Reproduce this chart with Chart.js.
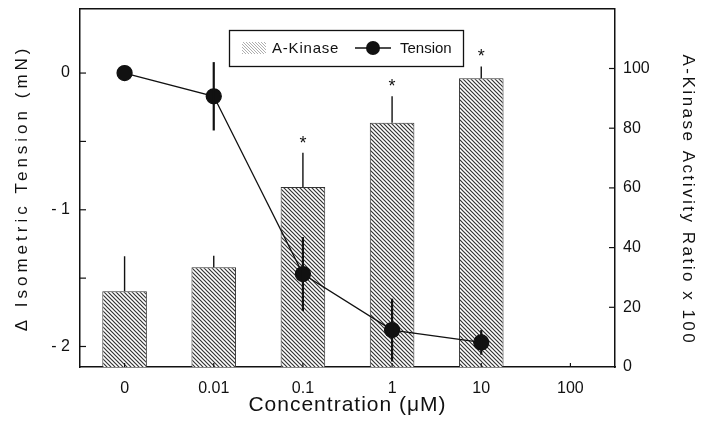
<!DOCTYPE html>
<html>
<head>
<meta charset="utf-8">
<script src="https://cdn.jsdelivr.net/npm/chart.js@4/dist/chart.umd.min.js"></script>
<style>
  html, body { margin: 0; padding: 0; background: #fff; }
  #wrap { width: 702px; height: 425px; }
</style>
</head>
<body>
<div id="wrap"><canvas id="chart" width="702" height="425"></canvas></div>
<script>
// data
const concentrations = ["0", "0.01", "0.1", "1", "10", "100"];
const kinaseActivity = [25.4, 33.4, 60.3, 81.8, 96.7, null];
const kinaseErr = [11.7, 3.9, 11.5, 8.9, 4.0, null];
const kinaseSignificant = [false, false, true, true, true, false];
const tension = [0, -0.17, -1.47, -1.88, -1.97, null];
const tensionErr = [0, 0.25, 0.27, 0.23, 0.09, null];
const tensionTicks = [0, -0.5, -1, -1.5, -2];
const kinaseTicks = [0, 20, 40, 60, 80, 100];

const FONT = "'Liberation Sans', Arial, Helvetica, sans-serif";
const INK = "#111";

Chart.defaults.font.family = FONT;
Chart.defaults.color = INK;

function makeHatch(lineColor, size, width) {
  const p = document.createElement("canvas");
  p.width = size; p.height = size;
  const c = p.getContext("2d");
  c.fillStyle = "#fff";
  c.fillRect(0, 0, size, size);
  c.strokeStyle = lineColor;
  c.lineWidth = width;
  c.beginPath();
  c.moveTo(-1, -1); c.lineTo(size + 1, size + 1);
  c.moveTo(-1, size - 1); c.lineTo(1, size + 1);
  c.moveTo(size - 1, -1); c.lineTo(size + 1, 1);
  c.stroke();
  return document.getElementById("chart").getContext("2d").createPattern(p, "repeat");
}
const barHatch = makeHatch("#333", 4, 1.2);
const legendHatch = makeHatch("#999", 3, 0.8);

function seg(ctx, x1, y1, x2, y2) {
  ctx.beginPath(); ctx.moveTo(x1, y1); ctx.lineTo(x2, y2); ctx.stroke();
}

// spaced-out axis titles like the printed figure
const titleSpacing = { x: "1px", y: "4px", y2: "2.5px" };
const titleShift = { x: 0, y: 0, y2: 12 };
const spacedTitles = {
  id: "spacedTitles",
  afterLayout(chart) {
    Object.keys(titleSpacing).forEach(id => {
      const s = chart.scales[id];
      if (!s || s._spaced) return;
      const orig = s.drawTitle;
      s.drawTitle = function() {
        this.ctx.save();
        this.ctx.letterSpacing = titleSpacing[id];
        this.ctx.translate(0, titleShift[id]);
        orig.call(this);
        this.ctx.restore();
      };
      s._spaced = true;
    });
  }
};

const errorBars = {
  id: "errorBars",
  afterDatasetsDraw(chart) {
    const { ctx, scales: { y, y2 } } = chart;
    const bars = chart.getDatasetMeta(0).data;
    const pts = chart.getDatasetMeta(1).data;
    ctx.save();
    ctx.strokeStyle = INK;
    ctx.fillStyle = INK;
    bars.forEach((b, i) => {
      if (kinaseActivity[i] == null) return;
      const top = y2.getPixelForValue(kinaseActivity[i] + kinaseErr[i]);
      ctx.lineWidth = 1.4;
      seg(ctx, b.x, b.y, b.x, top);
      if (kinaseSignificant[i]) {
        ctx.font = "18px " + FONT;
        ctx.textAlign = "center";
        ctx.textBaseline = "alphabetic";
        ctx.fillText("*", b.x, top - 4);
      }
    });
    pts.forEach((p, i) => {
      if (!tensionErr[i]) return;
      ctx.lineWidth = 2.2;
      seg(ctx, p.x, y.getPixelForValue(tension[i] + tensionErr[i]),
               p.x, y.getPixelForValue(tension[i] - tensionErr[i]));
    });
    ctx.restore();
  }
};

const frameAndLegend = {
  id: "frameAndLegend",
  afterDraw(chart) {
    const { ctx, chartArea: a, scales: { x, y, y2 } } = chart;
    ctx.save();
    ctx.strokeStyle = INK;
    ctx.lineWidth = 1.5;
    seg(ctx, a.left, a.top, a.right, a.top);

    // inward tick marks
    ctx.lineWidth = 1.2;
    tensionTicks.forEach(v => {
      const py = y.getPixelForValue(v);
      seg(ctx, a.left, py, a.left + 6, py);
    });
    kinaseTicks.forEach(v => {
      if (v === 0) return;
      const py = y2.getPixelForValue(v);
      seg(ctx, a.right - 6, py, a.right, py);
    });
    concentrations.forEach((c, i) => {
      const px = x.getPixelForValue(i);
      seg(ctx, px, a.bottom, px, a.bottom - 4);
    });

    // boxed legend
    const ds = chart.data.datasets;
    const bx = 229, by = 30, bw = 234, bh = 36, cy = by + bh / 2;
    ctx.lineWidth = 1.3;
    ctx.strokeRect(bx + 0.5, by + 0.5, bw, bh);
    ctx.fillStyle = legendHatch;
    ctx.fillRect(242, cy - 6, 24, 12);
    ctx.fillStyle = INK;
    ctx.font = "15px " + FONT;
    ctx.textBaseline = "middle";
    ctx.textAlign = "left";
    ctx.letterSpacing = "0.8px";
    ctx.fillText(ds[0].label, 272, cy + 1);
    ctx.letterSpacing = "0px";
    ctx.lineWidth = 1.3;
    seg(ctx, 355, cy, 391, cy);
    ctx.beginPath(); ctx.arc(373, cy, 7, 0, Math.PI * 2); ctx.fill();
    ctx.fillText(ds[1].label, 400, cy + 1);
    ctx.restore();
  }
};

function noPad(s) {
  s.paddingTop = 0; s.paddingBottom = 0; s.paddingLeft = 0; s.paddingRight = 0;
}

new Chart(document.getElementById("chart"), {
  data: {
    labels: concentrations,
    datasets: [
      {
        type: "bar",
        label: "A-Kinase",
        data: kinaseActivity,
        yAxisID: "y2",
        backgroundColor: barHatch,
        borderColor: "#333",
        borderWidth: 1,
        categoryPercentage: 1,
        barPercentage: 0.5,
        order: 2
      },
      {
        type: "line",
        label: "Tension",
        data: tension,
        yAxisID: "y",
        borderColor: INK,
        borderWidth: 1.3,
        pointBackgroundColor: INK,
        pointBorderColor: INK,
        pointRadius: 7.5,
        tension: 0,
        order: 1
      }
    ]
  },
  options: {
    responsive: false,
    animation: false,
    layout: { padding: { top: 8, left: 0, right: 0, bottom: 0 } },
    plugins: { legend: { display: false }, tooltip: { enabled: false } },
    scales: {
      x: {
        type: "category",
        offset: true,
        grid: { display: false, drawTicks: false },
        border: { display: true, color: INK, width: 1.5 },
        ticks: { font: { size: 16 }, padding: 12, color: INK },
        title: {
          display: true, text: "Concentration (\u03bcM)",
          font: { size: 21 }, color: INK, padding: { bottom: 7 }
        },
        afterFit: s => { s.height = 58; noPad(s); }
      },
      y: {
        position: "left",
        min: -2.15, max: 0.47,
        grid: { display: false, drawTicks: false },
        border: { display: true, color: INK, width: 1.5 },
        afterBuildTicks: s => { s.ticks = tensionTicks.map(v => ({ value: v })); },
        ticks: {
          font: { size: 16 }, padding: 10, color: INK,
          callback: v => Number.isInteger(v) ? (v === 0 ? "0" : "- " + Math.abs(v)) : ""
        },
        title: {
          display: true, text: "\u0394 Isometric Tension (mN)",
          font: { size: 17 }, color: INK, padding: { top: 12 }
        },
        afterFit: s => { s.width = 80; noPad(s); }
      },
      y2: {
        position: "right",
        min: 0, max: 120,
        grid: { display: false, drawTicks: false },
        border: { display: true, color: INK, width: 1.5 },
        afterBuildTicks: s => { s.ticks = kinaseTicks.map(v => ({ value: v })); },
        ticks: { font: { size: 16 }, padding: 8, color: INK },
        title: {
          display: true, text: "A-Kinase Activity Ratio x 100",
          font: { size: 17 }, color: INK, padding: { top: 4 }
        },
        afterFit: s => { s.width = 87; noPad(s); }
      }
    }
  },
  plugins: [spacedTitles, errorBars, frameAndLegend]
});
</script>
</body>
</html>
